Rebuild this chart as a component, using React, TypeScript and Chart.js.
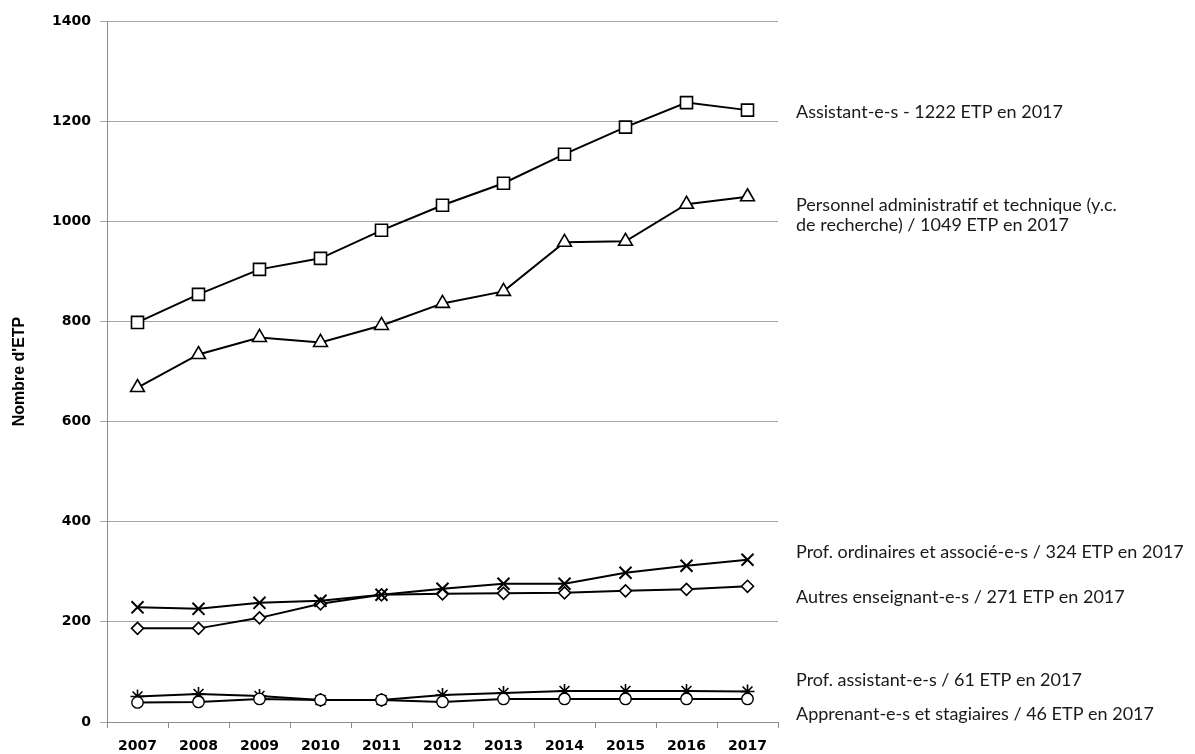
import React, { useEffect, useRef } from "react";
import { Chart, registerables } from "chart.js";

Chart.register(...registerables);

const years = ["2007", "2008", "2009", "2010", "2011", "2012", "2013", "2014", "2015", "2016", "2017"];

const assistants = [798, 854, 904, 926, 982, 1032, 1076, 1134, 1188, 1237, 1222];
const personnelAdm = [668, 734, 768, 758, 792, 836, 860, 958, 960, 1034, 1049];
const profOrdinaires = [229, 226, 238, 242, 254, 266, 276, 276, 298, 312, 324];
const autresEnseignants = [187, 187, 208, 236, 254, 256, 257, 258, 262, 265, 271];
const profAssistants = [51, 56, 52, 44, 44, 54, 58, 62, 62, 62, 61];
const apprenants = [39, 40, 46, 44, 44, 40, 46, 46, 46, 46, 46];

const yTicks = [0, 200, 400, 600, 800, 1000, 1200, 1400];

const seriesLabels = [
  ["Assistant-e-s - 1222 ETP en 2017"],
  ["Personnel administratif et technique (y.c.", "de recherche) / 1049 ETP en 2017"],
  ["Prof. ordinaires et associé-e-s / 324 ETP en 2017"],
  ["Autres enseignant-e-s / 271 ETP en 2017"],
  ["Prof. assistant-e-s / 61 ETP en 2017"],
  ["Apprenant-e-s et stagiaires / 46 ETP en 2017"],
];

// layout: baselines of right-hand label lines
const labelBaselines = [[118], [211, 231], [558], [603], [686], [720]];

const W = 1195;
const H = 754;

const sideLabels = {
  id: "sideLabels",
  afterDraw(chart: any) {
    const ctx = chart.ctx;
    ctx.save();
    ctx.fillStyle = "#1a1a1a";
    ctx.font = "18px Lato";
    ctx.textAlign = "left";
    ctx.textBaseline = "alphabetic";
    seriesLabels.forEach((lines, i) => {
      lines.forEach((t, j) => {
        ctx.fillText(t, 796, labelBaselines[i][j]);
      });
    });
    ctx.restore();
  },
};

function ds(label: string, data: number[], style: string, radius: number, bw: number) {
  return {
    label,
    data,
    borderColor: "#000",
    borderWidth: 2,
    tension: 0,
    pointStyle: style,
    pointRadius: radius,
    pointHoverRadius: radius,
    pointBackgroundColor: "#fff",
    pointBorderColor: "#000",
    pointBorderWidth: bw,
    fill: false,
  };
}

export default function App() {
  const ref = useRef<HTMLCanvasElement>(null);
  useEffect(() => {
    if (!ref.current) return;
    const chart = new Chart(ref.current, {
      type: "line",
      data: {
        labels: years,
        datasets: [
          ds("Assistant-e-s", assistants, "rect", 8.5, 1.6),
          ds("Personnel administratif et technique", personnelAdm, "triangle", 8, 1.6),
          ds("Prof. ordinaires et associé-e-s", profOrdinaires, "crossRot", 8.5, 2),
          ds("Autres enseignant-e-s", autresEnseignants, "rectRot", 6, 1.6),
          ds("Apprenant-e-s et stagiaires", apprenants, "circle", 5.7, 1.4),
          ds("Prof. assistant-e-s", profAssistants, "star", 7, 1.6),
        ],
      },
      options: {
        responsive: false,
        animation: false,
        layout: { padding: { left: 0, top: 21, right: W - 778, bottom: 0 } },
        plugins: {
          legend: { display: false },
          tooltip: { enabled: false },
        },
        scales: {
          x: {
            offset: true,
            grid: {
              display: true,
              offset: true,
              drawOnChartArea: false,
              drawTicks: true,
              tickLength: 6,
              color: "#8c8c8c",
            },
            border: { display: true, color: "#8c8c8c", width: 1 },
            ticks: {
              color: "#000",
              font: { family: "DejaVu Sans", weight: "bold", size: 14 },
              padding: 10,
              maxRotation: 0,
              autoSkip: false,
            },
            afterFit: (s: any) => {
              s.height = H - 722;
            },
          },
          y: {
            min: 0,
            max: 1400,
            afterBuildTicks: (s: any) => {
              s.ticks = yTicks.map((v) => ({ value: v }));
            },
            grid: {
              color: "#a6a6a6",
              drawTicks: true,
              tickLength: 7,
              lineWidth: 1,
            },
            border: { display: true, color: "#8c8c8c", width: 1 },
            ticks: {
              color: "#000",
              font: { family: "DejaVu Sans", weight: "bold", size: 14 },
              padding: 9,
              callback: (v: any) => String(v),
            },
            title: {
              display: true,
              text: "Nombre d'ETP",
              color: "#000",
              font: { family: "Liberation Sans", weight: "bold", size: 16 },
              padding: { top: 10, bottom: 0 },
            },
            afterFit: (s: any) => {
              s.width = 107;
            },
          },
        },
      },
      plugins: [sideLabels],
    });
    return () => chart.destroy();
  }, []);
  return (
    <div style={{ position: "fixed", left: 0, top: 0, width: W, height: H, background: "#fff" }}>
      <canvas ref={ref} width={W} height={H} style={{ width: W, height: H, display: "block" }} />
    </div>
  );
}
